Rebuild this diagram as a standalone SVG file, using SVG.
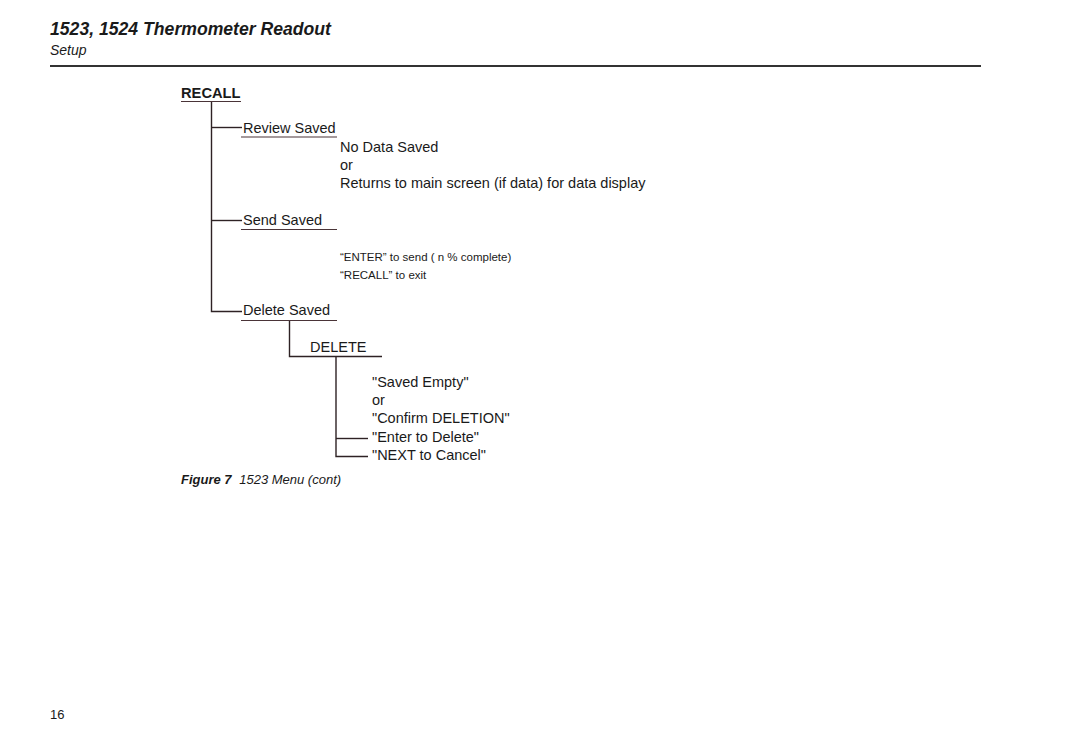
<svg xmlns="http://www.w3.org/2000/svg" width="1080" height="752" viewBox="0 0 1080 752">
<style>
text{font-family:"Liberation Sans",Arial,sans-serif;fill:#1a1a1a}
.t{font-size:14.5px}
.s{font-size:11.5px}
.ln{stroke:#2e2224;stroke-width:1.4;fill:none}
.ul{stroke:#4a3438;stroke-width:1.2;fill:none}
</style>
<rect width="1080" height="752" fill="#fff"/>
<g id="header">
<text x="50" y="35" font-size="18.5" font-weight="bold" font-style="italic" textLength="281" lengthAdjust="spacingAndGlyphs">1523, 1524 Thermometer Readout</text>
<text x="50" y="55" font-size="14" font-style="italic">Setup</text>
<line x1="50" y1="66" x2="981" y2="66" stroke="#333" stroke-width="2"/>
</g>
<g id="connectors">
<polyline class="ln" points="211.5,102 211.5,311.5 242,311.5"/>
<line class="ln" x1="211.5" y1="127.5" x2="242" y2="127.5"/>
<line class="ln" x1="211.5" y1="220.5" x2="242" y2="220.5"/>
<polyline class="ln" points="289.5,321 289.5,356.5 382,356.5"/>
<polyline class="ln" points="336,356.5 336,456.5 368,456.5"/>
<line class="ln" x1="336" y1="438.5" x2="368" y2="438.5"/>
</g>
<g id="recall">
<text x="181" y="98" font-size="14.7" font-weight="bold">RECALL</text>
<line class="ul" x1="181" y1="101.5" x2="241" y2="101.5"/>
</g>
<g id="review">
<text class="t" x="243" y="133">Review Saved</text>
<line class="ul" x1="241" y1="137" x2="337" y2="137"/>
<text class="t" x="340" y="152">No Data Saved</text>
<text class="t" x="340" y="170">or</text>
<text class="t" x="340" y="188">Returns to main screen (if data) for data display</text>
</g>
<g id="send">
<text class="t" x="243" y="225">Send Saved</text>
<line class="ul" x1="241" y1="229.5" x2="337" y2="229.5"/>
<text class="s" x="340" y="261">“ENTER” to send ( n % complete)</text>
<text class="s" x="340" y="279">“RECALL” to exit</text>
</g>
<g id="deleteSaved">
<text class="t" x="243" y="315">Delete Saved</text>
<line class="ul" x1="241" y1="320.5" x2="337" y2="320.5"/>
</g>
<g id="delete">
<text class="t" x="310" y="352">DELETE</text>
</g>
<g id="deleteResult">
<text class="t" x="372" y="387">"Saved Empty"</text>
<text class="t" x="372" y="405">or</text>
<text class="t" x="372" y="423">"Confirm DELETION"</text>
<text class="t" x="372" y="442">"Enter to Delete"</text>
<text class="t" x="372" y="460">"NEXT to Cancel"</text>
</g>
<g id="caption">
<text x="181" y="484" font-size="13" font-style="italic"><tspan font-weight="bold">Figure 7</tspan>  <tspan dx="4">1523 Menu (cont)</tspan></text>
</g>
<text x="50" y="719" font-size="13">16</text>
</svg>
